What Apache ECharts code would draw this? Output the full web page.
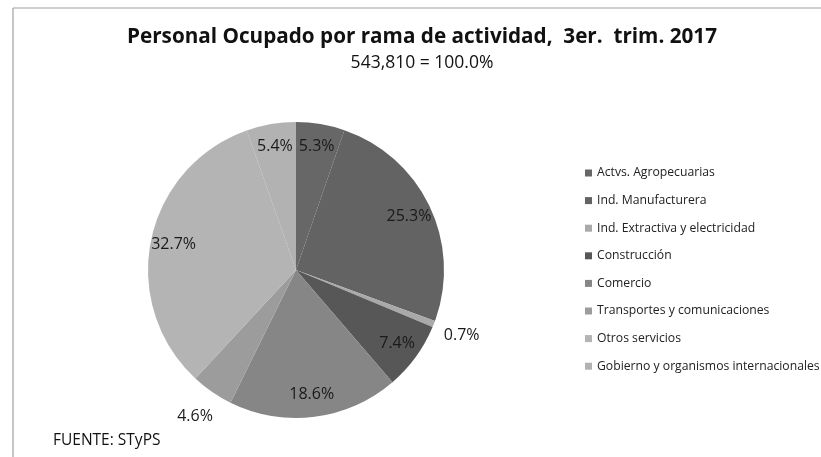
<!DOCTYPE html>
<html><head><meta charset="utf-8">
<script src="https://cdn.jsdelivr.net/npm/echarts@6/dist/echarts.min.js"></script>
<style>html,body{margin:0;padding:0;background:#fff}#c{width:821px;height:457px}</style>
</head><body><div id="c"></div>
<script>
const categories = ["Actvs. Agropecuarias","Ind. Manufacturera","Ind. Extractiva y electricidad","Construcción","Comercio","Transportes y comunicaciones","Otros servicios","Gobierno y organismos internacionales"];
const values = [5.3, 25.3, 0.7, 7.4, 18.6, 4.6, 32.7, 5.4];
const colors = ["#676767","#636363","#a9a9a9","#575757","#868686","#9c9c9c","#b4b4b4","#b2b2b2"];
const outsideLabel = [false,false,true,false,false,true,false,false];
const titleText = "Personal Ocupado por rama de actividad,  3er.  trim. 2017";
const subText = "543,810 = 100.0%";
const sourceText = "FUENTE: STyPS";

const chart = echarts.init(document.getElementById('c'));
const FONT = 'Open Sans';
const baseData = categories.map((n,i)=>({name:n,value:values[i],itemStyle:{color:colors[i]}}));
const fmt = p => p.value.toFixed(1) + '%';
chart.setOption({
  animation:false,
  backgroundColor:'#fff',
  title:[
    {text:titleText,left:422,top:27,padding:0,textAlign:'center',textStyle:{fontFamily:FONT,fontWeight:'bold',fontSize:20.7,color:'#111'}},
    {text:subText,left:422,top:54,padding:0,textAlign:'center',textStyle:{fontFamily:FONT,fontWeight:'normal',fontSize:17.5,color:'#111'}},
    {text:sourceText,left:53,top:433,padding:0,textStyle:{fontFamily:FONT,fontWeight:'normal',fontSize:15.5,color:'#111'}}
  ],
  legend:{
    orient:'vertical',left:585,top:166,padding:0,icon:'rect',itemWidth:7,itemHeight:7,itemGap:13.6,
    data:categories,selectedMode:false,
    textStyle:{fontFamily:FONT,fontSize:12.2,color:'#222',lineHeight:14}
  },
  graphic:[
    {type:'line',shape:{x1:13,y1:8,x2:821,y2:8},style:{stroke:'#a0a0a0',lineWidth:1.2},silent:true},
    {type:'line',shape:{x1:13,y1:8,x2:13,y2:457},style:{stroke:'#a0a0a0',lineWidth:1.2},silent:true}
  ],
  series:[
    {type:'pie',center:[296,270],radius:[0,148],startAngle:90,clockwise:true,
     data:baseData,label:{show:false},labelLine:{show:false},emphasis:{disabled:true}},
    {type:'pie',center:[296,270],radius:[96,148],startAngle:90,clockwise:true,silent:true,
     legendHoverLink:false,
     data:categories.map((n,i)=>({name:n,value:values[i],itemStyle:{color:'rgba(0,0,0,0)'},label:{show:!outsideLabel[i]}})),
     label:{position:'inside',formatter:fmt,fontFamily:FONT,fontSize:16,color:'#1a1a1a'},labelLine:{show:false},emphasis:{disabled:true}},
    {type:'pie',center:[296,270],radius:[150,200],startAngle:90,clockwise:true,silent:true,
     legendHoverLink:false,
     data:categories.map((n,i)=>({name:n,value:values[i],itemStyle:{color:'rgba(0,0,0,0)'},label:{show:outsideLabel[i]}})),
     label:{position:'inside',formatter:fmt,fontFamily:FONT,fontSize:16,color:'#1a1a1a'},labelLine:{show:false},emphasis:{disabled:true}}
  ]
});
</script></body></html>
